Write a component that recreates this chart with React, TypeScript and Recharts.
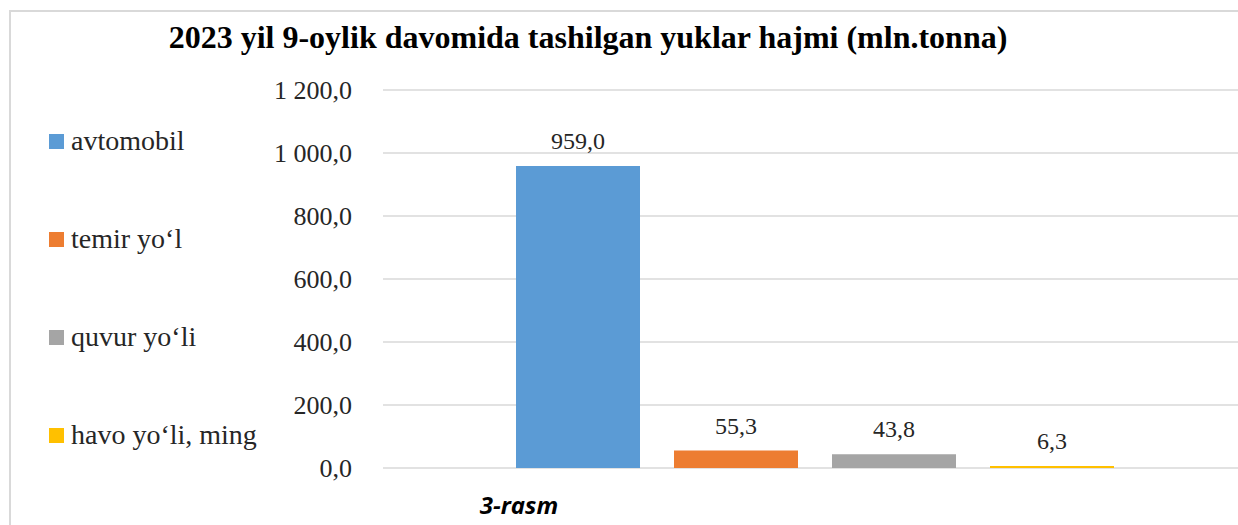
import React from "react";
import { Bar, BarChart, CartesianGrid, LabelList, Legend, XAxis, YAxis } from "recharts";

const seriesNames = ["avtomobil", "temir yo‘l", "quvur yo‘li", "havo yo‘li, ming"];
const seriesValues = [959.0, 55.3, 43.8, 6.3];
const seriesColors = ["#5b9bd5", "#ed7d31", "#a5a5a5", "#ffc000"];
const yTicks = [0, 200, 400, 600, 800, 1000, 1200];

const data = [
  seriesNames.reduce<Record<string, number | string>>(
    (row, name, i) => {
      row[`s${i}`] = seriesValues[i];
      return row;
    },
    { name: "" }
  ),
];

const serif = "'Liberation Serif', 'Times New Roman', serif";

const fmt = (v: number) =>
  v
    .toFixed(1)
    .replace(".", ",")
    .replace(/\B(?=(\d{3})+(?!\d))/g, " ");

function SideLegend() {
  return (
    <div style={{ fontFamily: serif, fontSize: 28, color: "#262626" }}>
      {seriesNames.map((name, i) => (
        <div key={name} style={{ height: 98, display: "flex", alignItems: "center" }}>
          <span style={{ width: 15, height: 15, background: seriesColors[i], marginRight: 7, display: "inline-block" }} />
          <span style={{ whiteSpace: "nowrap" }}>{name}</span>
        </div>
      ))}
    </div>
  );
}

export default function App() {
  return (
    <div style={{ position: "absolute", left: 0, top: 0, width: 1238, height: 525, overflow: "hidden", background: "#fff" }}>
      <div
        style={{
          position: "absolute",
          left: 9,
          top: 10,
          width: 1300,
          height: 600,
          border: "2px solid #d9d9d9",
          boxSizing: "border-box",
        }}
      />
      <div
        style={{
          position: "absolute",
          left: 0,
          top: 21,
          width: 1176,
          textAlign: "center",
          fontFamily: serif,
          fontWeight: "bold",
          fontSize: 32,
          lineHeight: 1,
          color: "#000",
          whiteSpace: "nowrap",
        }}
      >
        2023 yil 9-oylik davomida tashilgan yuklar hajmi (mln.tonna)
      </div>
      <div style={{ position: "absolute", left: 0, top: 0 }}>
        <BarChart
          width={1262}
          height={525}
          data={data}
          margin={{ top: 90, right: 16, bottom: 57, left: 0 }}
          barSize={124}
          barGap={34}
        >
          <CartesianGrid vertical={false} stroke="#d9d9d9" strokeWidth={1.5} />
          <XAxis dataKey="name" hide />
          <YAxis
            width={383}
            domain={[0, 1200]}
            ticks={yTicks}
            interval={0}
            tickFormatter={fmt}
            axisLine={false}
            tickLine={false}
            tickSize={0}
            tickMargin={31}
            tick={{ fontFamily: serif, fontSize: 26, fill: "#262626" }}
          />
          <Legend
            layout="vertical"
            verticalAlign="middle"
            align="center"
            content={() => <SideLegend />}
            wrapperStyle={{ left: 49, top: 92, width: 260 }}
          />
          {seriesNames.map((name, i) => (
            <Bar key={name} dataKey={`s${i}`} name={name} fill={seriesColors[i]} isAnimationActive={false}>
              <LabelList
                dataKey={`s${i}`}
                position="top"
                offset={17}
                formatter={(v: number) => fmt(Number(v))}
                style={{ fontFamily: serif, fontSize: 24, fill: "#262626" }}
              />
            </Bar>
          ))}
        </BarChart>
      </div>
      <div
        style={{
          position: "absolute",
          left: 420,
          width: 198,
          top: 491,
          textAlign: "center",
          fontFamily: "'Open Sans', 'Noto Sans', sans-serif",
          fontWeight: "bold",
          fontStyle: "italic",
          fontSize: 24,
          lineHeight: "28px",
          color: "#000",
        }}
      >
        3-rasm
      </div>
    </div>
  );
}
